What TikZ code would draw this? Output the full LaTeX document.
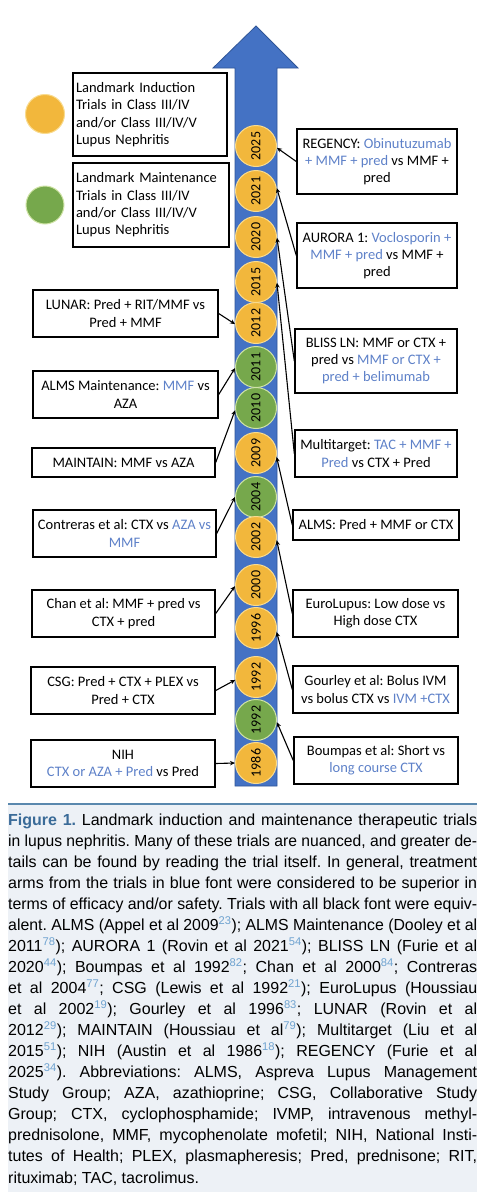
\documentclass[tikz,border=0pt]{standalone}
\usepackage{fontspec}
\usepackage{graphicx}
\setmainfont{Carlito}
\newfontfamily\capfont{Liberation Sans}
\usetikzlibrary{arrows.meta}
\definecolor{arrowblue}{HTML}{4472C4}
\definecolor{arrowedge}{HTML}{2F5597}
\definecolor{goldfill}{HTML}{F2B73C}
\definecolor{goldedge}{HTML}{F9DB8E}
\definecolor{greenfill}{HTML}{76A84C}
\definecolor{greenedge}{HTML}{CFE3A6}
\definecolor{txtblue}{HTML}{5E81C8}
\definecolor{rulecol}{HTML}{5A88AE}
\definecolor{capbg}{HTML}{EDF1F6}
\definecolor{figblue}{HTML}{3A6B98}
\definecolor{supblue}{HTML}{6FA3D0}
\newcommand\bl[1]{\textcolor{txtblue}{#1}}
\newcommand\supr[1]{\textsuperscript{\textcolor{supblue}{#1}}}
\newsavebox\capsavebox
\newcommand\capline[1]{\sbox\capsavebox{#1}\ifdim\wd\capsavebox>469pt\resizebox{469pt}{\ht\capsavebox}{\usebox\capsavebox}\else\makebox[469pt][s]{#1}\fi}
\frenchspacing
\tikzset{
  boxnode/.style={draw, line width=1.4pt, align=center, inner sep=0pt,
    font=\fontsize{14.5}{17.3}\selectfont},
  yrgold/.style={circle, fill=goldfill, draw=goldedge, line width=1pt, minimum size=41pt, inner sep=0pt,
    font=\fontsize{14}{16}\selectfont},
  yrgreen/.style={yrgold, fill=greenfill, draw=greenedge},
  conn/.style={line width=1.1pt, -{Stealth[length=5pt,width=4.5pt]}},
  capl/.style={anchor=base west, inner sep=0pt, font=\capfont\fontsize{16}{21}\selectfont}
}
\begin{document}
\begin{tikzpicture}[x=1pt,y=-1pt]
\useasboundingbox (0,0) rectangle (488,1200);
% main arrow
\draw[fill=arrowblue, draw=arrowedge, line width=0.8pt]
  (235,786) -- (235,68) -- (213,68) -- (256,26) -- (298,68) -- (277,68) -- (277,786) -- cycle;
% legend
\node[yrgold, minimum size=39pt] (lgold) at (45,114) {};
\node[yrgreen, minimum size=38pt] (lgreen) at (45,205) {};
\node[boxnode, align=left, text width=148pt, inner xsep=3pt, minimum height=83pt] (leg1) at (150,114.5)
  {Landmark Induction\\Trials in Class III/IV\\and/or Class III/IV/V\\Lupus Nephritis};
\node[boxnode, align=left, text width=150pt, inner xsep=3pt, minimum height=84pt] (leg2) at (151,205)
  {Landmark Maintenance\\Trials in Class III/IV\\and/or Class III/IV/V\\Lupus Nephritis};
% year circles
\node[yrgold]  (c2025) at (256,146) {\rotatebox{90}{2025}};
\node[yrgold]  (c2021) at (256,191) {\rotatebox{90}{2021}};
\node[yrgold]  (c2020) at (256,237) {\rotatebox{90}{2020}};
\node[yrgold]  (c2015) at (256,282) {\rotatebox{90}{2015}};
\node[yrgold]  (c2012) at (256,323) {\rotatebox{90}{2012}};
\node[yrgreen] (c2011) at (256,367) {\rotatebox{90}{2011}};
\node[yrgreen] (c2010) at (256,408) {\rotatebox{90}{2010}};
\node[yrgold]  (c2009) at (256,453) {\rotatebox{90}{2009}};
\node[yrgreen] (c2004) at (256,497) {\rotatebox{90}{2004}};
\node[yrgold]  (c2002) at (256,537) {\rotatebox{90}{2002}};
\node[yrgold]  (c2000) at (256,585) {\rotatebox{90}{2000}};
\node[yrgold]  (c1996) at (256,628) {\rotatebox{90}{1996}};
\node[yrgold]  (c1992a) at (256,677) {\rotatebox{90}{1992}};
\node[yrgreen] (c1992b) at (256,720) {\rotatebox{90}{1992}};
\node[yrgold]  (c1986) at (256,763) {\rotatebox{90}{1986}};
% right boxes
\node[boxnode, minimum width=160pt, minimum height=65pt] (reg) at (377,161.5)
  {REGENCY: \bl{Obinutuzumab}\\\bl{+ MMF + pred} vs MMF +\\pred};
\node[boxnode, minimum width=160pt, minimum height=65pt] (aur) at (377,255.5)
  {AURORA 1: \bl{Voclosporin +}\\\bl{MMF + pred} vs MMF +\\pred};
\node[boxnode, minimum width=162pt, minimum height=64pt] (bliss) at (376,361)
  {BLISS LN: MMF or CTX +\\pred vs \bl{MMF or CTX +}\\\bl{pred + belimumab}};
\node[boxnode, minimum width=162pt, minimum height=47pt] (multi) at (376,453.5)
  {Multitarget: \bl{TAC + MMF +}\\\bl{Pred} vs CTX + Pred};
\node[boxnode, minimum width=166pt, minimum height=30pt] (alms) at (376,525)
  {ALMS: Pred + MMF or CTX};
\node[boxnode, minimum width=165pt, minimum height=47pt] (euro) at (375.5,613.5)
  {EuroLupus: Low dose vs\\High dose CTX};
\node[boxnode, minimum width=165pt, minimum height=47pt] (gour) at (375.5,689.5)
  {Gourley et al: Bolus IVM\\vs bolus CTX vs \bl{IVM +CTX}};
\node[boxnode, minimum width=164pt, minimum height=47pt] (boum) at (376,760.5)
  {Boumpas et al: Short vs\\\bl{long course CTX}};
% left boxes
\node[boxnode, minimum width=185pt, minimum height=47pt] (lunar) at (125.5,313.5)
  {LUNAR: Pred + RIT/MMF vs\\Pred + MMF};
\node[boxnode, minimum width=185pt, minimum height=47pt] (almsm) at (125.5,394.5)
  {ALMS Maintenance: \bl{MMF} vs\\AZA};
\node[boxnode, minimum width=183pt, minimum height=29pt] (maint) at (123.5,462.5)
  {MAINTAIN: MMF vs AZA};
\node[boxnode, minimum width=183pt, minimum height=47pt] (contr) at (124.5,533.5)
  {Contreras et al: CTX vs \bl{AZA vs}\\\bl{MMF}};
\node[boxnode, minimum width=183pt, minimum height=47pt] (chan) at (123.5,613.5)
  {Chan et al: MMF + pred vs\\CTX + pred};
\node[boxnode, minimum width=184pt, minimum height=47pt] (csg) at (123,690.5)
  {CSG: Pred + CTX + PLEX vs\\Pred + CTX};
\node[boxnode, minimum width=184pt, minimum height=47pt] (nih) at (123,763.5)
  {NIH\\\bl{CTX or AZA + Pred} vs Pred};
% connectors right
\draw[conn] (reg.west) -- (c2025.-5);
\draw[conn] (aur.west) -- (c2021.8);
\draw[conn] (bliss.west) -- (c2020.-2);
\draw[conn] (multi.west) -- (c2015.-2);
\draw[conn] (alms.west) -- (c2009.-11);
\draw[conn] (euro.west) -- (c2002.-9);
\draw[conn] (gour.west) -- (c1996.-11);
\draw[conn] (boum.west) -- (c1992b.-6);
% connectors left
\draw[conn] (lunar.east) -- (c2012.183);
\draw[conn] (almsm.east) -- (c2011.183);
\draw[conn] (maint.east) -- (c2010.186);
\draw[conn] (contr.east) -- (c2004.180);
\draw[conn] (chan.east) -- (c2000.183);
\draw[conn] (csg.east) -- (c1992a.188);
\draw[conn] (nih.east) -- (c1986.west);
% caption
\fill[capbg] (8,805) rectangle (477,1192);
\draw[rulecol, line width=2.2pt] (8,804) -- (477,804);
\node[capl] (cap1) at (8,825) {\capline{{\bfseries\color{figblue}Figure 1.} Landmark induction and maintenance therapeutic trials}};
\node[capl] (cap2) at (8,846.06) {\capline{in lupus nephritis. Many of these trials are nuanced, and greater de-}};
\node[capl] (cap3) at (8,867.12) {\capline{tails can be found by reading the trial itself. In general, treatment}};
\node[capl] (cap4) at (8,888.18) {\capline{arms from the trials in blue font were considered to be superior in}};
\node[capl] (cap5) at (8,909.24) {\capline{terms of efficacy and/or safety. Trials with all black font were equiv-}};
\node[capl] (cap6) at (8,930.30) {\capline{alent. ALMS (Appel et al 2009\supr{23}); ALMS Maintenance (Dooley et al}};
\node[capl] (cap7) at (8,951.36) {\capline{2011\supr{78}); AURORA 1 (Rovin et al 2021\supr{54}); BLISS LN (Furie et al}};
\node[capl] (cap8) at (8,972.42) {\capline{2020\supr{44}); Boumpas et al 1992\supr{82}; Chan et al 2000\supr{84}; Contreras}};
\node[capl] (cap9) at (8,993.48) {\capline{et al 2004\supr{77}; CSG (Lewis et al 1992\supr{21}); EuroLupus (Houssiau}};
\node[capl] (cap10) at (8,1014.54) {\capline{et al 2002\supr{19}); Gourley et al 1996\supr{83}; LUNAR (Rovin et al}};
\node[capl] (cap11) at (8,1035.60) {\capline{2012\supr{29}); MAINTAIN (Houssiau et al\supr{79}); Multitarget (Liu et al}};
\node[capl] (cap12) at (8,1056.66) {\capline{2015\supr{51}); NIH (Austin et al 1986\supr{18}); REGENCY (Furie et al}};
\node[capl] (cap13) at (8,1077.72) {\capline{2025\supr{34}). Abbreviations: ALMS, Aspreva Lupus Management}};
\node[capl] (cap14) at (8,1098.78) {\capline{Study Group; AZA, azathioprine; CSG, Collaborative Study}};
\node[capl] (cap15) at (8,1119.84) {\capline{Group; CTX, cyclophosphamide; IVMP, intravenous methyl-}};
\node[capl] (cap16) at (8,1140.90) {\capline{prednisolone, MMF, mycophenolate mofetil; NIH, National Insti-}};
\node[capl] (cap17) at (8,1161.96) {\capline{tutes of Health; PLEX, plasmapheresis; Pred, prednisone; RIT,}};
\node[capl] (cap18) at (8,1183.02) {rituximab; TAC, tacrolimus.};
\end{tikzpicture}
\end{document}
